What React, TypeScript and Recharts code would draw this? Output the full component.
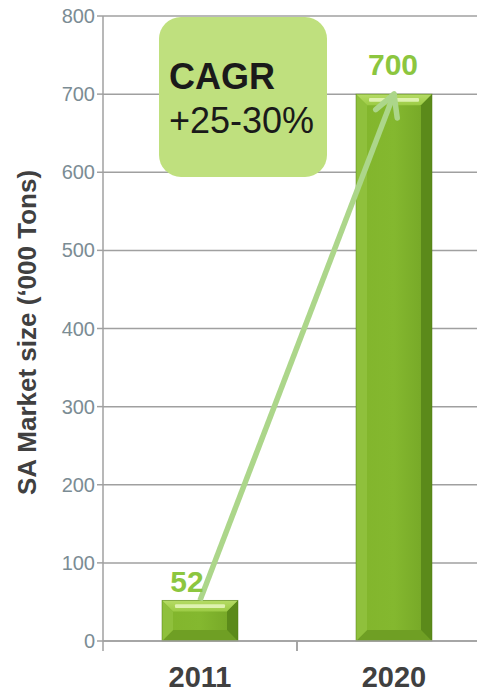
import React from "react";
import { ComposedChart, Bar, Line, XAxis, YAxis, CartesianGrid, LabelList } from "recharts";

const years = ["2011", "2020"];
const marketSize = [52, 700];
const yTicks = [0, 100, 200, 300, 400, 500, 600, 700, 800];
const yAxisTitle = "SA Market size (\u2018000 Tons)";
const cagrTitle = "CAGR";
const cagrValue = "+25-30%";

const data = years.map((y, i) => ({ year: y, value: marketSize[i] }));

const W = 491;
const H = 694;
const LEFT = 103;
const TOP = 16;
const XAXIS_H = 53;
const BAND = (W - LEFT) / years.length;
const FONT = "'Liberation Sans', Arial, sans-serif";

const BevelBar = (props: any) => {
  const { x, y, width: w, height: h } = props;
  if (!h || h <= 0) return null;
  const b = Math.min(11, h / 3.2);
  return (
    <g>
      <rect x={x} y={y} width={w} height={h} fill="url(#barMain)" />
      <polygon points={`${x},${y} ${x + w},${y} ${x + w - b},${y + b} ${x + b},${y + b}`} fill="url(#barTop)" />
      <polygon points={`${x},${y + h} ${x + w},${y + h} ${x + w - b},${y + h - b} ${x + b},${y + h - b}`} fill="#6f9f24" />
      <polygon points={`${x},${y} ${x + b},${y + b} ${x + b},${y + h - b} ${x},${y + h}`} fill="#8fc03c" />
      <polygon points={`${x + w},${y} ${x + w - b},${y + b} ${x + w - b},${y + h - b} ${x + w},${y + h}`} fill="#5b8a1a" />
      <rect x={x + b + 2} y={y + b * 0.35} width={w - 2 * b - 4} height={Math.max(2, b * 0.35)} fill="#e8f7c0" opacity={0.85} rx={1} />
      <rect x={x} y={y} width={w} height={h} fill="none" stroke="#4f7a14" strokeWidth={0.8} opacity={0.6} />
    </g>
  );
};

const ValueLabel = (props: any) => {
  const { x, y, width, value, index } = props;
  const dx = index === 0 ? -13 : -1;
  const dy = index === 0 ? -8 : -19;
  return (
    <text x={x + width / 2 + dx} y={y + dy} textAnchor="middle" fill="#8cc63f" fontFamily={FONT} fontWeight="bold" fontSize={30}>
      {value}
    </text>
  );
};

const ArrowDot = (props: any) => {
  const { cx, cy, index, points } = props;
  if (index !== (points ? points.length - 1 : 1)) return <g key={`d${index}`} />;
  let ang = Math.atan2(-506, 195);
  if (points && points.length > 1) {
    const p0 = points[points.length - 2];
    const p1 = points[points.length - 1];
    ang = Math.atan2(p1.y - p0.y, p1.x - p0.x);
  }
  const L = 24;
  const spread = 0.5;
  const a1 = ang + Math.PI - spread;
  const a2 = ang + Math.PI + spread;
  return (
    <g key={`d${index}`}>
      <line x1={cx} y1={cy} x2={cx + L * Math.cos(a1)} y2={cy + L * Math.sin(a1)} stroke="#acd68a" strokeWidth={5.5} strokeLinecap="round" />
      <line x1={cx} y1={cy} x2={cx + L * Math.cos(a2)} y2={cy + L * Math.sin(a2)} stroke="#acd68a" strokeWidth={5.5} strokeLinecap="round" />
    </g>
  );
};

const XTick = (props: any) => {
  const { x, y, payload } = props;
  const bx = x - BAND / 2;
  return (
    <g>
      <line x1={bx} y1={y - 8} x2={bx} y2={y + 2} stroke="#a0a0a0" strokeWidth={1.5} />
      <line x1={x + BAND / 2} y1={y - 8} x2={x + BAND / 2} y2={y + 2} stroke="#a0a0a0" strokeWidth={1.5} />
      <text x={x} y={y + 38} textAnchor="middle" fill="#404040" fontFamily={FONT} fontWeight="bold" fontSize={29}>
        {payload.value}
      </text>
    </g>
  );
};

const YTitle = (props: any) => {
  const vb = props.viewBox || {};
  const cy = (vb.y ?? TOP) + (vb.height ?? 625) / 2 + 4;
  return (
    <text x={27} y={cy} transform={`rotate(-90, 27, ${cy})`} textAnchor="middle" dominantBaseline="central" fill="#404040" fontFamily={FONT} fontWeight="bold" fontSize={26}>
      {yAxisTitle}
    </text>
  );
};

export default function App() {
  return (
    <div style={{ position: "absolute", left: 0, top: 0, width: 477, height: 694, overflow: "hidden", background: "#fff" }}>
      <ComposedChart width={W} height={H} data={data} margin={{ top: TOP, right: 0, bottom: 0, left: 0 }}>
        <defs>
          <linearGradient id="barMain" x1="0" y1="0" x2="1" y2="0">
            <stop offset="0" stopColor="#82b52c" />
            <stop offset="0.5" stopColor="#84b82f" />
            <stop offset="0.85" stopColor="#78aa28" />
            <stop offset="1" stopColor="#5f8e1c" />
          </linearGradient>
          <linearGradient id="barTop" x1="0" y1="0" x2="0" y2="1">
            <stop offset="0" stopColor="#b6dc66" />
            <stop offset="1" stopColor="#9ccb45" />
          </linearGradient>
        </defs>
        <CartesianGrid vertical={false} stroke="#a0a0a0" strokeWidth={1.5} />
        <XAxis dataKey="year" height={XAXIS_H} axisLine={{ stroke: "#a0a0a0", strokeWidth: 1.5 }} tickLine={false} tick={<XTick />} interval={0} />
        <YAxis
          width={LEFT}
          domain={[0, 800]}
          ticks={yTicks}
          interval={0}
          axisLine={{ stroke: "#a0a0a0", strokeWidth: 1.5 }}
          tickLine={{ stroke: "#a0a0a0", strokeWidth: 1.5 }}
          tickSize={6}
          tick={{ fill: "#7b8c94", fontFamily: FONT, fontSize: 20 }}
          label={<YTitle />}
        />
        <Bar dataKey="value" barSize={76} shape={<BevelBar />} isAnimationActive={false}>
          <LabelList dataKey="value" content={<ValueLabel />} />
        </Bar>
        <Line dataKey="value" stroke="#acd68a" strokeWidth={5.5} dot={<ArrowDot />} activeDot={false} isAnimationActive={false} />
      </ComposedChart>
      <div
        style={{
          position: "absolute",
          left: 159,
          top: 17,
          width: 168,
          height: 160,
          background: "#bfe07e",
          borderRadius: 22,
          fontFamily: FONT,
          fontSize: 36,
          color: "#1a1a1a",
          boxSizing: "border-box",
          paddingLeft: 10,
          paddingTop: 38,
          lineHeight: "44px",
        }}
      >
        <div style={{ fontWeight: "bold" }}>{cagrTitle}</div>
        <div>{cagrValue}</div>
      </div>
    </div>
  );
}
